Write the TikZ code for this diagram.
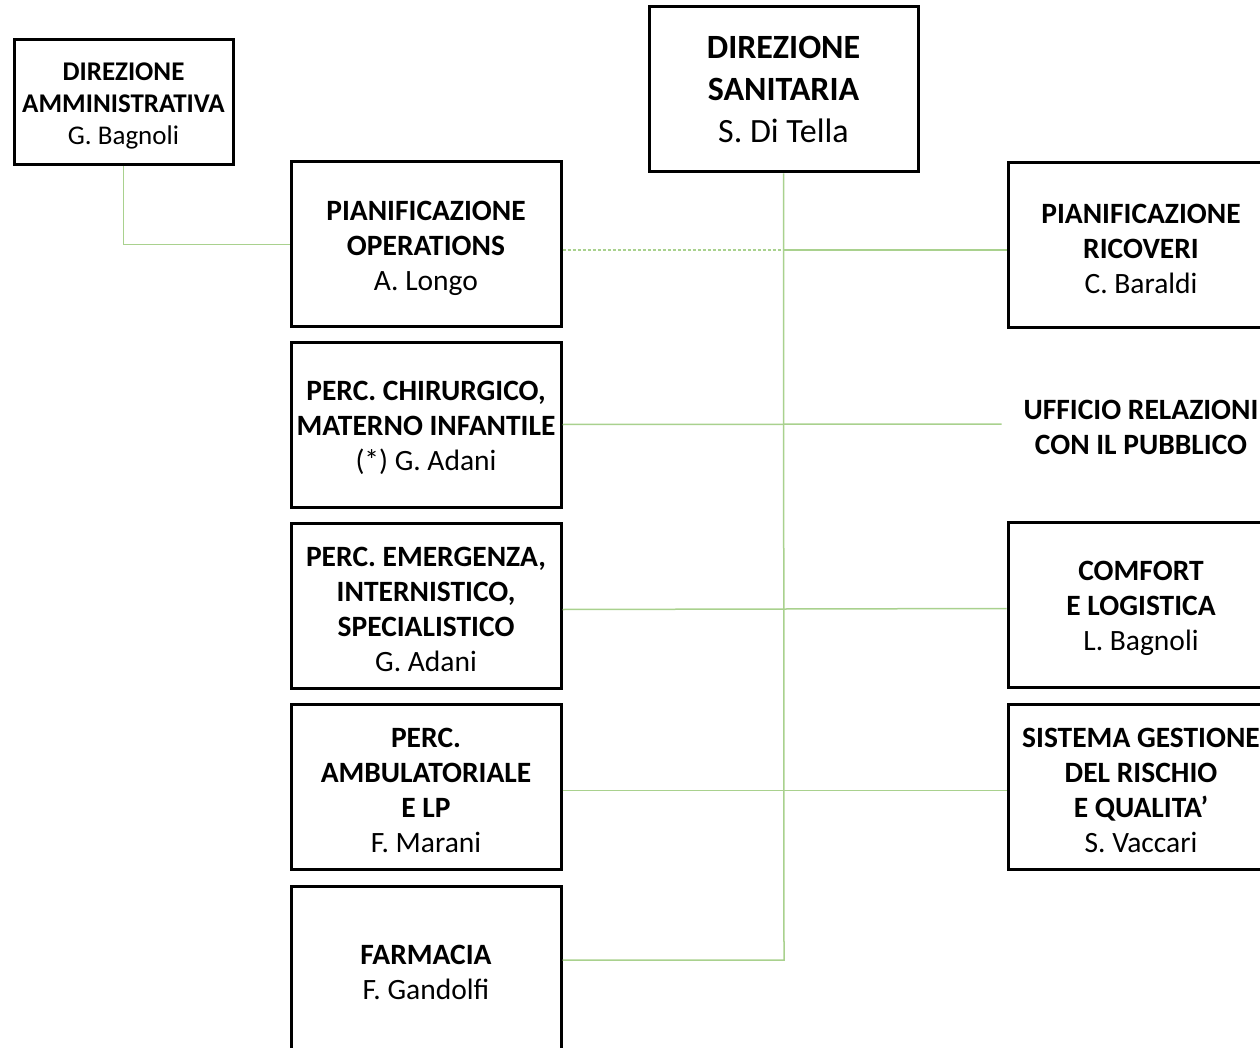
\documentclass[tikz,border=0pt]{standalone}
\usepackage{fontspec}
\setmainfont{Carlito}
\usepackage{tikz}
\usetikzlibrary{positioning}

\definecolor{linegreen}{RGB}{169,209,142}
\newcommand{\orgtop}{\rule{0pt}{0.9em}}

\tikzset{
  orgbox/.style = {draw = black, line width = 3pt, align = center, minimum width = 270pt, minimum height = 165pt, inner sep = 0pt, font = \fontsize{29.5}{35}\selectfont},
  link/.style = {draw = linegreen, line width = 1.5pt},
  linkdot/.style = {draw = linegreen, line width = 1.5pt, dash pattern = on 3pt off 2pt}
}

\begin{document}
\begin{tikzpicture}[x = 1pt, y = -1pt]
            \useasboundingbox (0,0) rectangle (1260,1048);
            \node[orgbox, minimum width = 219pt, minimum height = 125pt, font = \fontsize{27}{32}\selectfont] (amm) at (123.5,102.5) {\orgtop\textbf{DIREZIONE}\\\textbf{AMMINISTRATIVA}\\G. Bagnoli};
            \node[orgbox, minimum width = 269pt, font = \fontsize{34}{42}\selectfont] (san) at (783.5,89.5) {\textbf{DIREZIONE}\\\textbf{SANITARIA}\\S. Di Tella};
            \node[orgbox] (oper) at (426,244.5) {\orgtop\textbf{PIANIFICAZIONE}\\\textbf{OPERATIONS}\\A. Longo};
            \node[orgbox] (chir) at (426,424.5) {\orgtop\textbf{PERC. CHIRURGICO,}\\\textbf{MATERNO INFANTILE}\\(*) G. Adani};
            \node[orgbox] (emerg) at (426,605.5) {\orgtop\textbf{PERC. EMERGENZA,}\\\textbf{INTERNISTICO,}\\\textbf{SPECIALISTICO}\\G. Adani};
            \node[orgbox] (amb) at (426,786.5) {\orgtop\textbf{PERC.}\\\textbf{AMBULATORIALE}\\\textbf{E LP}\\F. Marani};
            \node[orgbox, minimum height = 166pt] (farm) at (426,969) {\orgtop\textbf{FARMACIA}\\F. Gandolfi};
            \node[orgbox, minimum width = 266pt] (ricov) at (1141,245.5) {\orgtop\textbf{PIANIFICAZIONE}\\\textbf{RICOVERI}\\C. Baraldi};
            \node[orgbox, draw = none, minimum width = 266pt] (urp) at (1141,424) {\orgtop\textbf{UFFICIO RELAZIONI}\\\textbf{CON IL PUBBLICO}};
            \node[orgbox, minimum width = 266pt] (comfort) at (1141,604.5) {\orgtop\textbf{COMFORT}\\\textbf{E LOGISTICA}\\L. Bagnoli};
            \node[orgbox, minimum width = 266pt] (sistema) at (1141,786.5) {\orgtop\textbf{SISTEMA GESTIONE}\\\textbf{DEL RISCHIO}\\\textbf{E QUALITA’}\\S. Vaccari};
            \coordinate (trunkend) at (784,960);
            \coordinate (operjoin) at (784,250);
            \draw[link] (san.south) -- (trunkend) -- (farm.east |- trunkend);
            \draw[link] (amm.south) |- (oper.west);
            \draw[linkdot] (oper.east |- operjoin) -- (operjoin);
            \draw[link] (operjoin) -- (ricov.west |- operjoin);
            \draw[link] (chir.east) -- ([xshift = -5pt]urp.west);
            \draw[link] ([yshift = -4pt]emerg.east) -- ([yshift = -4pt]comfort.west);
            \draw[link] ([yshift = -4pt]amb.east) -- ([yshift = -4pt]sistema.west);
\end{tikzpicture}
\end{document}
